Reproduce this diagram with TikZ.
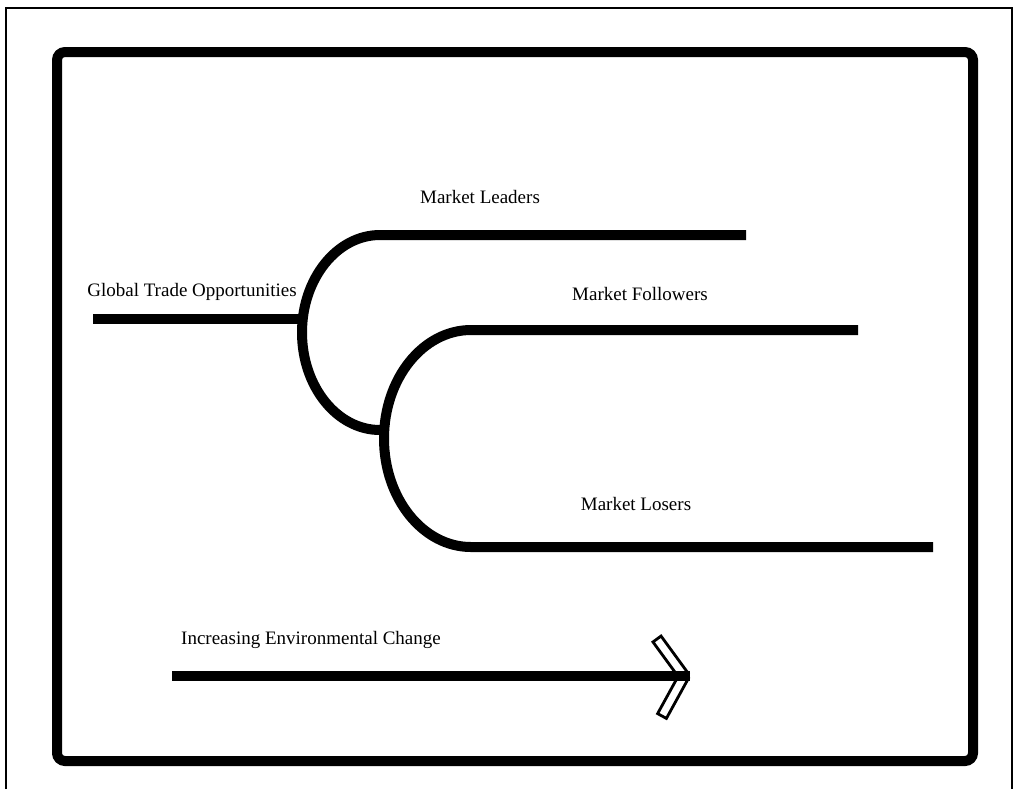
\documentclass[tikz,border=0pt]{standalone}
\usepackage{fontspec}
\setmainfont{Liberation Serif}
\usepackage{tikz}
\usetikzlibrary{calc}
\usetikzlibrary{positioning}

\tikzset{
    branch/.style={line width=5pt, line cap=butt},
    armbar/.style={draw=black, fill=white, line width=1.4pt, line join=miter},
    lbl/.style={font=\fontsize{9.5}{11}\selectfont, inner sep=0pt}
}

\begin{document}
\begin{tikzpicture}[x=0.5pt, y=-0.5pt]
            \useasboundingbox (0, 0) rectangle (1016, 789);
            % Page edge & frame
            \draw[line width=1pt]                                             (6, 789) -- (6, 8) -- (1012, 8) -- (1012, 789);
            \draw[line width=5pt, rounded corners=4pt]                        (57, 52) rectangle (973, 761);
            % Global trade opportunities
            \coordinate (gto)      at ( 93.0, 319.0);
            \coordinate (split)    at (303.0, 319.0);
            \node[lbl] (gtolbl)    at (192.0, 292.0) {Global Trade Opportunities};
            \draw[branch] (gto) -- (split);
            % Leaders branch
            \coordinate (leadtop)  at (380.0, 235.0);
            \coordinate (leadend)  at (746.0, 235.0);
            \node[lbl] (leadlbl)   at (480.0, 197.0) {Market Leaders};
            \draw[branch] (leadend) -- (leadtop) arc[start angle=270, end angle=90, x radius=78, y radius=97.5]
                 coordinate (lowsplit);
            % Followers & losers branch
            \coordinate (follow)   at (471.0, 330.0);
            \coordinate (followend) at (858.0, 330.0);
            \coordinate (loseend)  at (933.0, 547.0);
            \node[lbl] (followlbl) at (640.0, 294.0) {Market Followers};
            \node[lbl] (loselbl)   at (636.0, 504.0) {Market Losers};
            \draw[branch] (followend) -- (follow) arc[start angle=270, end angle=90, x radius=87, y radius=108.5]
                 coordinate (lose) -- (loseend);
            % Environmental change arrow
            \coordinate (chgstart) at (172.0, 676.0);
            \coordinate (chgtip)   at (690.0, 676.0);
            \coordinate (armtip)   at (684.0, 676.0);
            \coordinate (armup)    at (657.0, 639.0);
            \coordinate (armdown)  at (662.0, 716.0);
            \node[lbl] (chglbl)    at (311.0, 640.0) {Increasing Environmental Change};
            \foreach \arm in {armup, armdown}
                \draw[armbar] ($(\arm)!2.5pt!90:(armtip)$) -- ($(armtip)!2.5pt!-90:(\arm)$)
                           -- ($(armtip)!2.5pt!90:(\arm)$) -- ($(\arm)!2.5pt!-90:(armtip)$) -- cycle;
            \draw[branch] (chgstart) -- (chgtip);
        \end{tikzpicture}
\end{document}
